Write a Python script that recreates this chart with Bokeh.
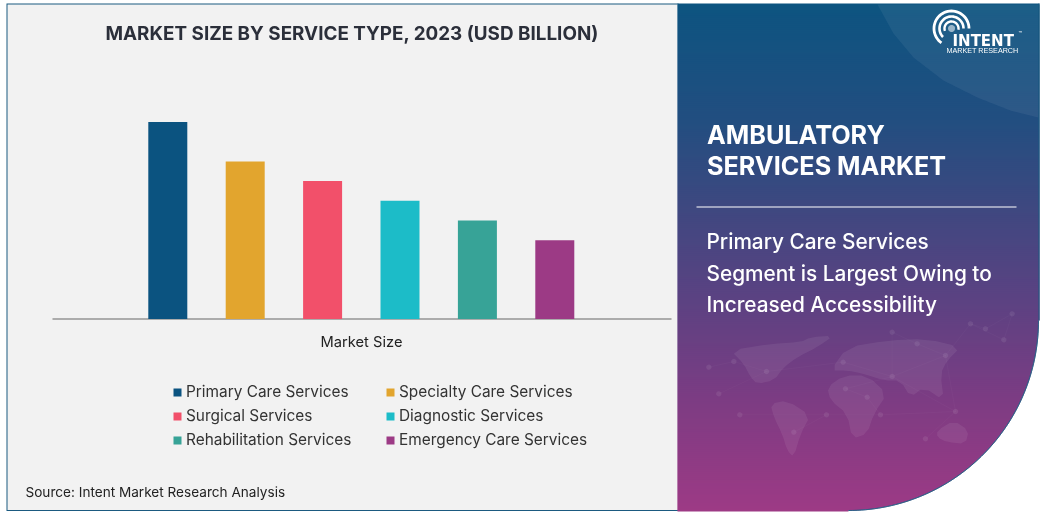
import math
import numpy as np
from bokeh.plotting import figure
from bokeh.models import (BoxAnnotation, PolyAnnotation, Label, Legend, LegendItem, Range1d)
from bokeh.embed import file_html
from bokeh.resources import INLINE

CATEGORY = "Market Size"
services = ["Primary Care Services", "Specialty Care Services", "Surgical Services",
            "Diagnostic Services", "Rehabilitation Services", "Emergency Care Services"]
values = [10.0, 8.0, 7.0, 6.0, 5.0, 4.0]
colors = ["#0B5380", "#E2A52E", "#F2506A", "#1CBCC8", "#37A397", "#9C3A85"]

TITLE = "MARKET SIZE BY SERVICE TYPE, 2023 (USD BILLION)"
SOURCE = "Source: Intent Market Research Analysis"
HEAD = ["AMBULATORY", "SERVICES MARKET"]
SUB = ["Primary Care Services", "Segment is Largest Owing to", "Increased Accessibility"]
FONT = "Inter"

W, H = 1043, 513
# scales: the frame fills the page; bar i sits 77.4 px after bar i-1, value 0 lies at y=319, 1 unit = 19.7 px
STEP, X0, Y0, UNIT = 77.4, 167.3, 318.5, 19.7
p = figure(width=W, height=H, output_backend="svg", toolbar_location=None,
           x_range=Range1d(-X0 / STEP, (W - X0) / STEP),
           y_range=Range1d(-(H - Y0) / UNIT, Y0 / UNIT),
           min_border=0, x_axis_location=None, y_axis_location=None,
           background_fill_color="white", border_fill_color="white", outline_line_color=None,
           styles={"position": "fixed", "left": "0px", "top": "0px"})
p.grid.visible = False


def box(l, r, t, b, color, alpha=1.0, level="image"):
    p.add_layout(BoxAnnotation(left=l, right=r, top=t, bottom=b, left_units="canvas", right_units="canvas",
                               top_units="canvas", bottom_units="canvas", fill_color=color, fill_alpha=alpha,
                               line_color=None, level=level))


def poly(xs, ys, fill=None, alpha=1.0, line=None, lw=1, lalpha=1.0, level="image"):
    p.add_layout(PolyAnnotation(xs=list(xs), ys=list(ys), xs_units="canvas", ys_units="canvas",
                                fill_color=fill, fill_alpha=alpha, line_color=line, line_width=lw,
                                line_alpha=lalpha, level=level))


def lab(x, y, text, size, color="white", style="normal", font=FONT, align="left"):
    p.add_layout(Label(x=x, y=y, x_units="canvas", y_units="canvas", text=text, text_font=font,
                       text_font_size=f"{size}px", text_color=color, text_font_style=style,
                       text_baseline="middle", text_align=align))


def smooth(pts, rounds=2):
    # corner cutting of a closed outline
    for _ in range(rounds):
        out = []
        for i in range(len(pts)):
            a, b = pts[i], pts[(i + 1) % len(pts)]
            out.append((0.75 * a[0] + 0.25 * b[0], 0.75 * a[1] + 0.25 * b[1]))
            out.append((0.25 * a[0] + 0.75 * b[0], 0.25 * a[1] + 0.75 * b[1]))
        pts = out
    return pts


# left panel + frame
box(6, 678, 3, 510.5, "#1B5A80")
box(7, 678, 4, 509.5, "#F2F2F2")


# right gradient panel
def grad(y):
    stops = [(3, (13, 84, 128)), (120, (34, 78, 128)), (205, (62, 72, 128)), (300, (92, 66, 130)),
             (400, (125, 60, 131)), (510, (157, 58, 133))]
    ys = [s[0] for s in stops]
    return tuple(int(round(np.interp(y, ys, [s[1][k] for s in stops]))) for k in range(3))


for y in range(3, 511, 2):
    c = "#%02x%02x%02x" % grad(y)
    box(677, 1039, y, min(y + 3, 511), c)

# light shape at top right
sx = np.array([877, 893, 913, 943, 977, 1010, 1038])
sy = np.array([4, 33, 57, 80, 97, 110, 117])
tt = np.linspace(0, 6, 49)
fine = list(zip(np.interp(tt, range(7), sx), np.interp(tt, range(7), sy)))
poly([a for a, _ in fine] + [1038], [b for _, b in fine] + [4], fill="white", alpha=0.06)


# world map (zoomed reference coordinates)
def m(pts):
    return [a / 3 + 660 for a, _ in pts], [b / 3 + 300 for _, b in pts]


continents = [
    [(210, 150), (330, 130), (420, 125), (450, 110), (520, 105), (470, 140), (410, 170), (370, 200), (340, 240),
     (290, 250), (270, 230), (250, 190)],
    [(330, 310), (380, 300), (450, 345), (420, 400), (400, 470), (380, 450), (365, 400), (340, 350)],
    [(500, 260), (550, 225), (620, 225), (680, 280), (640, 340), (620, 400), (575, 415), (560, 340), (510, 300)],
    [(510, 210), (560, 140), (680, 120), (800, 115), (900, 140), (860, 180), (840, 220), (850, 300), (790, 260),
     (750, 290), (720, 240), (670, 240), (610, 220), (560, 210)],
    [(830, 390), (880, 360), (925, 390), (915, 430), (860, 425), (830, 410)],
]
for c in continents:
    xs, ys = m(smooth(c, 1))
    poly(xs, ys, fill="white", alpha=0.07)

nodes = [(145, 200), (175, 280), (220, 183), (238, 343), (318, 213), (400, 395), (498, 343), (548, 185), (555, 265),
         (620, 290), (660, 343), (695, 228), (695, 95), (770, 130), (855, 165), (885, 333), (795, 415), (930, 70),
         (1030, 118), (1055, 40), (975, 85)]
links = [(0, 2), (2, 4), (4, 7), (7, 11), (11, 14), (14, 17), (17, 18), (18, 19), (3, 6), (6, 10), (10, 15), (15, 14),
         (1, 4), (5, 6), (8, 9), (9, 10), (11, 12), (12, 13), (13, 14), (15, 16), (8, 11), (17, 20), (19, 20), (11, 15)]
for a, b in links:
    xs, ys = m([nodes[a], nodes[b]])
    poly(xs, ys, line="white", lw=0.5, lalpha=0.05)
for nx, ny in nodes:
    t = np.linspace(0, 2 * math.pi, 14)[:-1]
    xs, ys = m([(nx + 8 * math.cos(a), ny + 8 * math.sin(a)) for a in t])
    poly(xs, ys, fill="white", alpha=0.08)

# white bottom-right corner, cut by a circular edge
CX, CY, R = 848, 320, 190
ang = np.linspace(0, math.pi / 2, 70)
ex = [CX + R * math.cos(a) for a in ang]
ey = [CY + R * math.sin(a) for a in ang]
poly(ex + [CX, 1043, 1043], ey + [513, 513, CY], fill="white", line=None)
poly(ex + ex[::-1], ey + ey[::-1], line="#2A5C86", lw=1, lalpha=0.8)
box(1038, 1039, 3, CY, "#1B5A80")

# baseline
box(52, 671, 318, 319, "#666666", level="underlay")

# bars
rs = []
for i, s in enumerate(services):
    r = p.vbar(x=[i], top=[values[i]], bottom=0, width=39 / STEP, fill_color=colors[i], line_color=None)
    rs.append(LegendItem(label=s, renderers=[r]))

for col_items, x_ in ((rs[0::2], 172), (rs[1::2], 385)):
    p.add_layout(Legend(items=col_items, location=(x_, 64), orientation="vertical",
                        background_fill_alpha=0, border_line_color=None, glyph_width=10, glyph_height=10,
                        label_standoff=4, spacing=5, padding=0, margin=0, label_text_font=FONT,
                        label_text_font_size="15.4px", label_text_color="#333333", label_height=16), "center")

# texts
lab(105, 33, TITLE, 18.85, color="#2B2F3A", style="bold")
lab(320, 341, CATEGORY, 14.7, color="#222222")
lab(25, 491, SOURCE, 13.6, color="#222222")
lab(706.5, 134.5, HEAD[0], 25.2, style="bold")
lab(706.5, 165.5, HEAD[1], 25.2, style="bold")
box(696, 1016, 206, 207, "white")
lab(706, 241, SUB[0], 20.8, font="Inter Medium, Inter")
lab(706, 273, SUB[1], 20.8, font="Inter Medium, Inter")
lab(706, 304, SUB[2], 20.8, font="Inter Medium, Inter")

# logo
LCX, LCY = 951, 28
for r_, w_, a0, a1 in [(7, 2.4, -10, 200), (12, 2.6, 0, 225), (17.5, 2.8, 0, 235)]:
    t = np.radians(np.linspace(a0, a1, 40))
    xo = [LCX + (r_ + w_ / 2) * math.cos(a) for a in t]
    yo = [LCY - (r_ + w_ / 2) * math.sin(a) for a in t]
    xi = [LCX + (r_ - w_ / 2) * math.cos(a) for a in t[::-1]]
    yi = [LCY - (r_ - w_ / 2) * math.sin(a) for a in t[::-1]]
    poly(xo + xi, yo + yi, fill="white")
t = np.linspace(0, 2 * math.pi, 20)[:-1]
poly([LCX + 3.5 * math.cos(a) for a in t], [LCY + 3.5 * math.sin(a) for a in t], fill="white", alpha=0.55)
lab(952, 40, "INTENT", 15, style="bold", font="DejaVu Sans")
lab(946, 50, "MARKET RESEARCH", 7.2, font="Liberation Sans")
lab(1018, 33, "™", 6)

open("out.html", "w").write(file_html(p, INLINE))
